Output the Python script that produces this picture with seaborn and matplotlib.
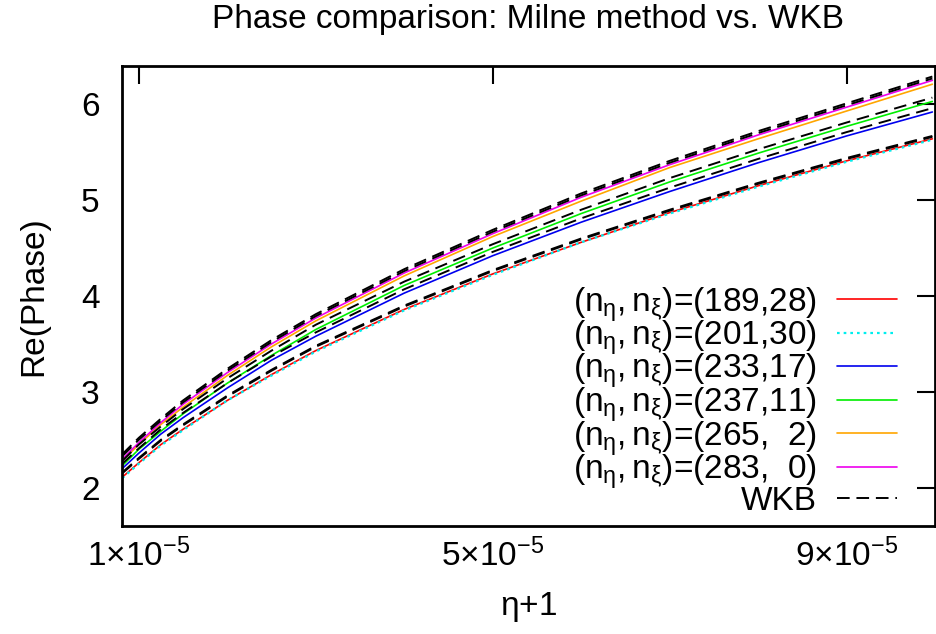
import numpy as np
import pandas as pd
import matplotlib
matplotlib.use("Agg")
import matplotlib.pyplot as plt
import seaborn as sns

# ---- data ----
eta_plus_1 = [0.814e-5, 1.0e-5, 1.25e-5, 1.5e-5, 2.0e-5, 2.5e-5, 3.0e-5, 4.0e-5,
              5.0e-5, 6.0e-5, 7.0e-5, 8.0e-5, 9.0e-5, 9.97e-5]

milne_189_28 = [2.11, 2.26, 2.45, 2.61, 2.91, 3.18, 3.43, 3.86, 4.23, 4.56, 4.87, 5.15, 5.41, 5.64]
milne_201_30 = [2.10, 2.25, 2.44, 2.60, 2.91, 3.17, 3.42, 3.85, 4.22, 4.56, 4.86, 5.14, 5.40, 5.63]
milne_233_17 = [2.20, 2.36, 2.56, 2.73, 3.04, 3.33, 3.58, 4.03, 4.42, 4.77, 5.09, 5.39, 5.67, 5.92]
milne_237_11 = [2.23, 2.40, 2.59, 2.77, 3.09, 3.38, 3.65, 4.11, 4.50, 4.86, 5.19, 5.49, 5.77, 6.03]
milne_265_2 = [2.28, 2.45, 2.66, 2.84, 3.17, 3.47, 3.74, 4.21, 4.62, 4.99, 5.34, 5.64, 5.93, 6.21]
milne_283_0 = [2.30, 2.47, 2.68, 2.87, 3.20, 3.50, 3.77, 4.24, 4.65, 5.03, 5.37, 5.68, 5.97, 6.25]

wkb_189_28 = [2.16, 2.31, 2.50, 2.66, 2.96, 3.23, 3.48, 3.90, 4.27, 4.60, 4.90, 5.18, 5.44, 5.67]
wkb_201_30 = [2.15, 2.30, 2.49, 2.65, 2.95, 3.22, 3.47, 3.89, 4.26, 4.59, 4.89, 5.17, 5.43, 5.66]
wkb_233_17 = [2.25, 2.41, 2.61, 2.78, 3.09, 3.37, 3.62, 4.07, 4.46, 4.81, 5.13, 5.43, 5.71, 5.96]
wkb_237_11 = [2.28, 2.45, 2.64, 2.82, 3.14, 3.43, 3.70, 4.15, 4.54, 4.90, 5.23, 5.53, 5.81, 6.07]
wkb_265_2 = [2.35, 2.52, 2.72, 2.91, 3.24, 3.54, 3.81, 4.28, 4.69, 5.07, 5.41, 5.72, 6.01, 6.29]
wkb_283_0 = [2.33, 2.50, 2.70, 2.89, 3.22, 3.52, 3.79, 4.26, 4.67, 5.05, 5.39, 5.70, 5.99, 6.27]

series_labels = ["(189,28)", "(201,30)", "(233,17)", "(237,11)", "(265,  2)", "(283,  0)"]
series_colors = ["#ff0000", "#00eeee", "#0000ee", "#00ee00", "#ffa500", "#ee00ee"]

xtick_values = [1e-5, 5e-5, 9e-5]
xtick_labels = [r"$1{\times}10^{-5}$", r"$5{\times}10^{-5}$", r"$9{\times}10^{-5}$"]
ytick_values = [2, 3, 4, 5, 6]

milne = [milne_189_28, milne_201_30, milne_233_17, milne_237_11, milne_265_2, milne_283_0]
wkb = [wkb_189_28, wkb_201_30, wkb_233_17, wkb_237_11, wkb_265_2, wkb_283_0]

# ---- style ----
sns.set_style("white")
plt.rcParams["font.family"] = ["Liberation Sans", "DejaVu Sans"]
plt.rcParams["mathtext.fontset"] = "custom"
plt.rcParams["mathtext.rm"] = "Liberation Sans"
plt.rcParams["mathtext.it"] = "Liberation Sans"
plt.rcParams["mathtext.bf"] = "Liberation Sans:bold"
plt.rcParams["mathtext.default"] = "regular"
for k in ["text.color", "axes.labelcolor", "xtick.color", "ytick.color"]:
    plt.rcParams[k] = "black"

FS = 24

fig = plt.figure(figsize=(9.36, 6.34), dpi=100)
ax = fig.add_axes([122 / 936, 1 - 526 / 634, (935 - 122) / 936, (526 - 66) / 634])

for vals, lab, col in zip(milne, series_labels, series_colors):
    df = pd.DataFrame({"x": eta_plus_1, "y": vals})
    name = r"$(n_{\eta},n_{\xi})$=" + lab
    if lab == "(201,30)":
        sns.lineplot(data=df, x="x", y="y", ax=ax, color=col, lw=1.6,
                     linestyle=(0, (1.2, 1.8)), label=name)
    else:
        sns.lineplot(data=df, x="x", y="y", ax=ax, color=col, lw=1.2, label=name)

for i, vals in enumerate(wkb):
    df = pd.DataFrame({"x": eta_plus_1, "y": vals})
    sns.lineplot(data=df, x="x", y="y", ax=ax, color="black", lw=1.4,
                 dashes=False, linestyle=(0, (6.5, 3.5)),
                 label="WKB" if i == 0 else None)

ax.set_xlim(0.81e-5, 1.0e-4)
ax.set_ylim(1.6, 6.4)
ax.set_xticks(xtick_values)
ax.set_xticklabels(xtick_labels)
ax.set_yticks(ytick_values)
ax.tick_params(direction="in", top=True, right=True, length=13, width=1.5,
               labelsize=FS, pad=9)
ax.tick_params(axis="y", pad=16)
for sp in ax.spines.values():
    sp.set_linewidth(2.0)
    sp.set_color("black")

ax.set_xlabel(r"$\eta$+1", fontsize=FS, labelpad=12)
ax.set_ylabel("Re(Phase)", fontsize=FS, labelpad=23)
ax.set_title("Phase comparison: Milne method vs. WKB", fontsize=FS, pad=27)

leg = ax.legend(loc="lower right", bbox_to_anchor=(897 / 936, 1 - 517 / 634),
                bbox_transform=fig.transFigure, frameon=False, markerfirst=False,
                fontsize=FS, handlelength=1.8, handletextpad=0.6,
                labelspacing=-0.15, borderpad=0, borderaxespad=0)

fig.savefig("out.png", dpi=100)
